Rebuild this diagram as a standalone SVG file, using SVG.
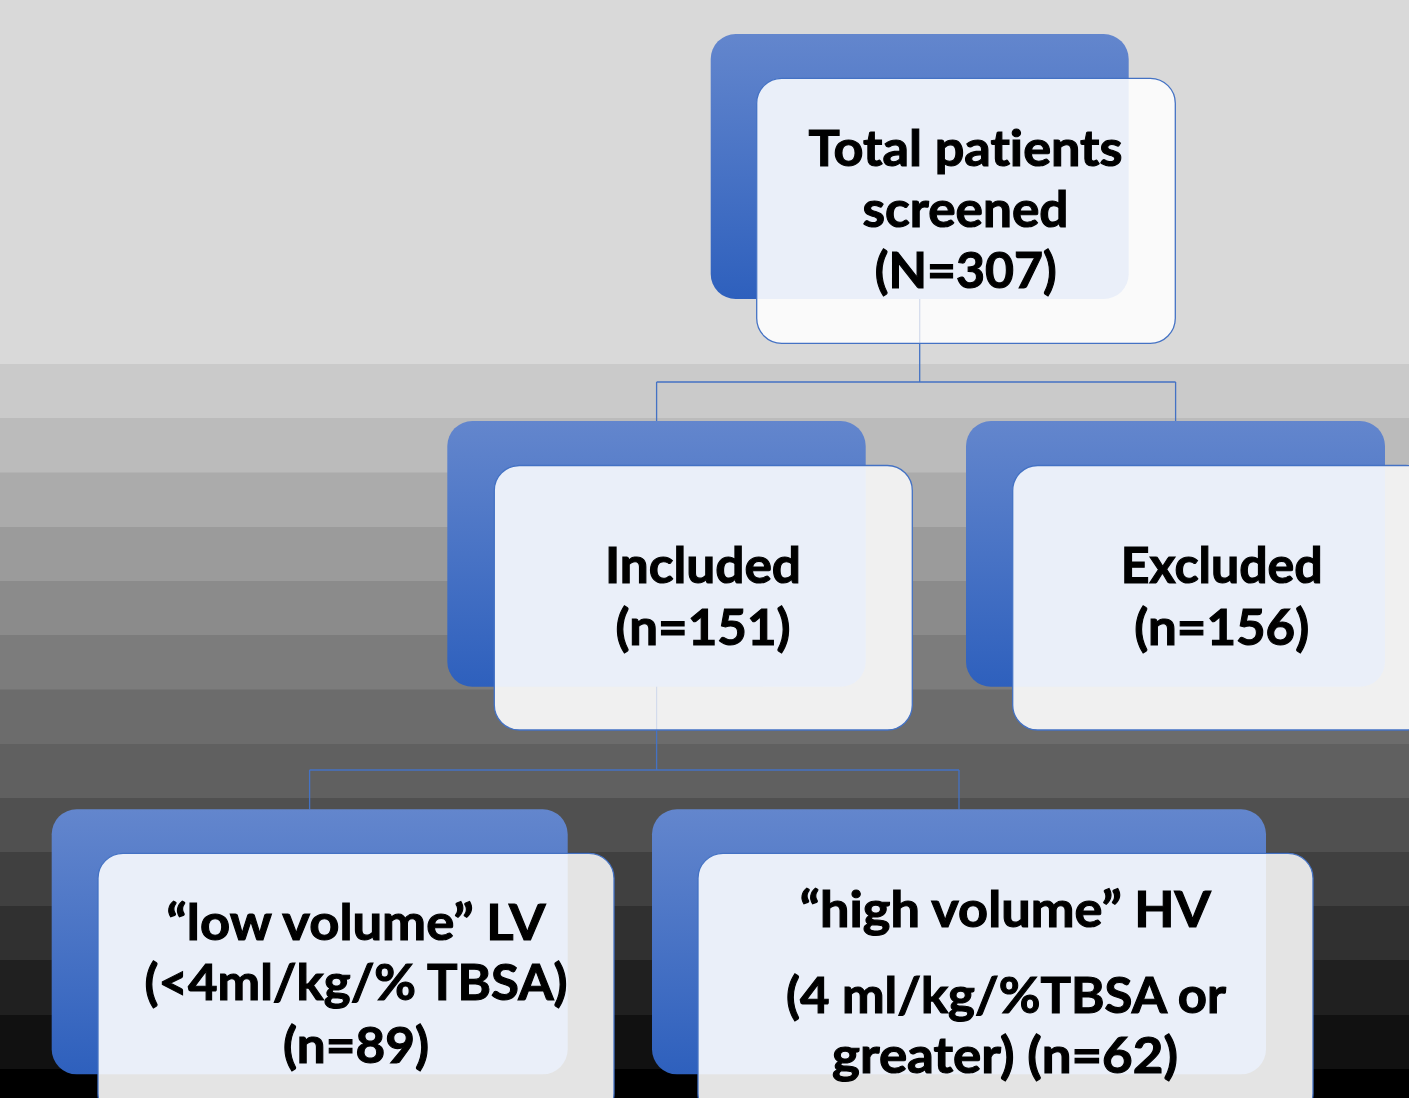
<svg xmlns="http://www.w3.org/2000/svg" width="1409" height="1098" viewBox="0 0 1409 1098">
<defs>
<linearGradient id="blue" x1="0" y1="0" x2="0" y2="1">
<stop offset="0" stop-color="#6386cd"/>
<stop offset="1" stop-color="#2e60bd"/>
</linearGradient>
<clipPath id="c-top"><rect x="756.7" y="78.3" width="418.6" height="265" rx="25"/></clipPath>
<clipPath id="c-inc"><rect x="494.3" y="465.5" width="418" height="264.5" rx="25"/></clipPath>
<clipPath id="c-exc"><rect x="1012.7" y="465.5" width="418" height="264.5" rx="25"/></clipPath>
<clipPath id="c-lv"><rect x="98" y="853.3" width="516" height="265" rx="25"/></clipPath>
<clipPath id="c-hv"><rect x="698" y="853.3" width="615" height="265" rx="25"/></clipPath>
</defs>
<style>
.back{fill:url(#blue);}
.tint{fill:#eaeff9;}
.edge{fill:none;stroke:#4472c4;stroke-width:1.3;}
.conn{fill:none;stroke:#4472c4;stroke-width:1.3;}
.faint{fill:none;stroke:#d3dbec;stroke-width:1.2;}
.t{font-family:Lato,"Open Sans","Liberation Sans",sans-serif;font-weight:bold;font-size:50px;fill:#000;stroke:#000;stroke-width:1.1;text-anchor:middle;font-variant-ligatures:none;font-feature-settings:"liga" 0;}
</style>
<g id="background">
<rect x="0" y="0" width="1409" height="1098" fill="#d9d9d9"/>
<rect x="0" y="364" width="1409" height="55" fill="#cacaca"/>
<rect x="0" y="418" width="1409" height="55" fill="#bbbbbb"/>
<rect x="0" y="472.5" width="1409" height="55" fill="#ababab"/>
<rect x="0" y="527" width="1409" height="55" fill="#9b9b9b"/>
<rect x="0" y="581" width="1409" height="55" fill="#8b8b8b"/>
<rect x="0" y="635" width="1409" height="55" fill="#7c7c7c"/>
<rect x="0" y="689.5" width="1409" height="55" fill="#6c6c6c"/>
<rect x="0" y="744" width="1409" height="55" fill="#606060"/>
<rect x="0" y="798" width="1409" height="55" fill="#505050"/>
<rect x="0" y="852" width="1409" height="55" fill="#404040"/>
<rect x="0" y="906" width="1409" height="55" fill="#303030"/>
<rect x="0" y="960" width="1409" height="55" fill="#202020"/>
<rect x="0" y="1015" width="1409" height="55" fill="#111111"/>
<rect x="0" y="1069" width="1409" height="29" fill="#000000"/>
</g>
<g id="connectors">
<path class="conn" d="M919.7,343 V382 M656.6,382 H1175.6 M656.6,382 V421 M1175.6,382 V421"/>
<path class="conn" d="M656.6,730 V770 M309.6,770 H959 M309.6,770 V809.3 M959,770 V809.3"/>
</g>
<g id="node-total">
<rect class="back" x="710.7" y="34" width="418" height="265" rx="25"/>
<rect x="756.7" y="78.3" width="418.6" height="265" rx="25" fill="#fafafa"/>
<rect class="tint" clip-path="url(#c-top)" x="710.7" y="34" width="418" height="265" rx="25"/>
<line class="faint" x1="919.7" y1="299" x2="919.7" y2="343"/>
<rect class="edge" x="756.7" y="78.3" width="418.6" height="265" rx="25"/>
<text class="t" x="965.5" y="165.7" textLength="314" lengthAdjust="spacingAndGlyphs">Total patients</text>
<text class="t" x="965.5" y="226.7" textLength="206" lengthAdjust="spacingAndGlyphs">screened</text>
<text class="t" x="965.8" y="287.7" textLength="182" lengthAdjust="spacingAndGlyphs">(N=307)</text>
</g>
<g id="node-included">
<rect class="back" x="447.3" y="421" width="418.4" height="265.7" rx="25"/>
<rect x="494.3" y="465.5" width="418" height="264.5" rx="25" fill="#f0f0f0"/>
<rect class="tint" clip-path="url(#c-inc)" x="447.3" y="421" width="418.4" height="265.7" rx="25"/>
<line class="faint" x1="656.6" y1="686.7" x2="656.6" y2="730"/>
<rect class="edge" x="494.3" y="465.5" width="418" height="264.5" rx="25"/>
<text class="t" x="703" y="583.3" textLength="196" lengthAdjust="spacingAndGlyphs">Included</text>
<text class="t" x="703" y="645" textLength="175" lengthAdjust="spacingAndGlyphs">(n=151)</text>
</g>
<g id="node-excluded">
<rect class="back" x="966" y="421" width="419" height="265.7" rx="25"/>
<rect x="1012.7" y="465.5" width="418" height="264.5" rx="25" fill="#f0f0f0"/>
<rect class="tint" clip-path="url(#c-exc)" x="966" y="421" width="419" height="265.7" rx="25"/>
<rect class="edge" x="1012.7" y="465.5" width="418" height="264.5" rx="25"/>
<text class="t" x="1221.7" y="583.3" textLength="202" lengthAdjust="spacingAndGlyphs">Excluded</text>
<text class="t" x="1221.7" y="645" textLength="175" lengthAdjust="spacingAndGlyphs">(n=156)</text>
</g>
<g id="node-lv">
<rect class="back" x="51.7" y="809.3" width="516" height="265" rx="25"/>
<rect x="98" y="853.3" width="516" height="265" rx="25" fill="#e4e4e4"/>
<rect class="tint" clip-path="url(#c-lv)" x="51.7" y="809.3" width="516" height="265" rx="25"/>
<rect class="edge" x="98" y="853.3" width="516" height="265" rx="25"/>
<text class="t" x="356" y="940" textLength="379" lengthAdjust="spacingAndGlyphs">“low volume” LV</text>
<text class="t" x="356" y="1000" textLength="423" lengthAdjust="spacingAndGlyphs">(&lt;4ml/kg/% TBSA)</text>
<text class="t" x="356" y="1062.7" textLength="146" lengthAdjust="spacingAndGlyphs">(n=89)</text>
</g>
<g id="node-hv">
<rect class="back" x="652" y="809.3" width="614" height="265" rx="25"/>
<rect x="698" y="853.3" width="615" height="265" rx="25" fill="#e4e4e4"/>
<rect class="tint" clip-path="url(#c-hv)" x="652" y="809.3" width="614" height="265" rx="25"/>
<rect class="edge" x="698" y="853.3" width="615" height="265" rx="25"/>
<text class="t" x="1005.3" y="926.7" textLength="411" lengthAdjust="spacingAndGlyphs">“high volume” HV</text>
<text class="t" x="1006" y="1013" textLength="440" lengthAdjust="spacingAndGlyphs">(4 ml/kg/%TBSA or</text>
<text class="t" x="1005" y="1073" textLength="346" lengthAdjust="spacingAndGlyphs">greater) (n=62)</text>
</g>
</svg>
